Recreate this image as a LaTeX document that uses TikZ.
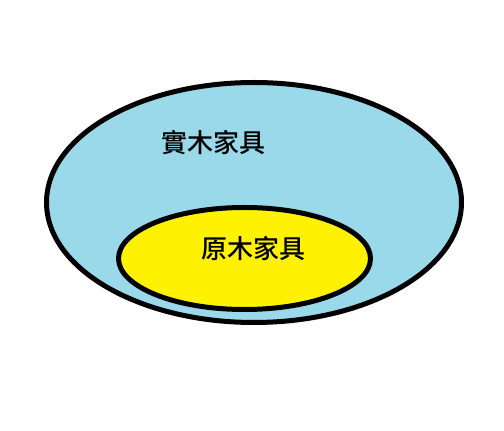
\documentclass[tikz,border=0pt]{standalone}
\usepackage{fontspec}
\newfontfamily\cjk{Noto Sans CJK TC Medium}
\definecolor{setblue}{HTML}{99D9EA}
\definecolor{setyellow}{HTML}{FFF200}
\begin{document}
\begin{tikzpicture}[x=1pt,y=1pt,
  setline/.style={draw=black,line width=5pt},
  setlabel/.style={font=\cjk\fontsize{26}{31}\selectfont,inner sep=0pt}]
\useasboundingbox (0,0) rectangle (504,431);
\filldraw[setline,fill=setblue] (254,228.5) ellipse (207.5 and 120);
\filldraw[setline,fill=setyellow] (244.5,172.5) ellipse (126 and 51);
\node[setlabel] (solid) at (213,288) {實木家具};
\node[setlabel] (log) at (253.5,182) {原木家具};
\end{tikzpicture}
\end{document}
